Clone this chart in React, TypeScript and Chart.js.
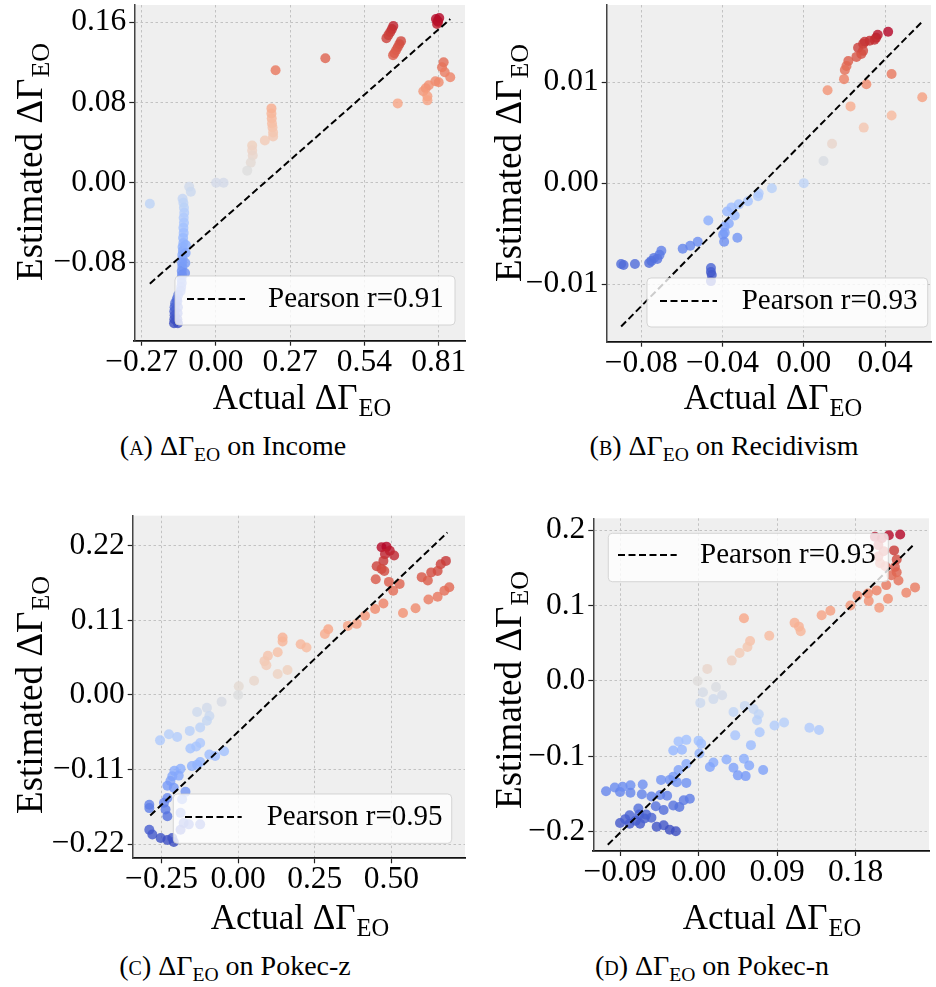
import React, { useEffect, useRef } from "react";
import { Chart, registerables } from "chart.js";

Chart.register(...registerables);

const SERIF = '"Liberation Serif", "Times New Roman", Times, serif';

// ---------- (A) Income ----------
const incomeActual = [
  0.8, 0.808, 0.804, 0.812, 0.806, 0.645, 0.64, 0.634, 0.627, 0.62, 0.673, 0.667, 0.661, 0.655, 0.649, 0.644,
  0.398, 0.217, 0.828, 0.822, 0.832, 0.852, 0.81, 0.798, 0.774, 0.763, 0.754, 0.769, 0.769, 0.661,
  0.202, 0.202, 0.203, 0.204, 0.206, 0.208, 0.208, 0.178, 0.132, 0.132, 0.134, 0.127, 0.114, 0.001, 0.028,
  -0.24, -0.097, -0.091, -0.121,
  -0.118, -0.116, -0.115, -0.117, -0.116, -0.118, -0.117, -0.119, -0.118, -0.121, -0.12, -0.122, -0.121,
  -0.123, -0.122, -0.124, -0.123, -0.125, -0.124, -0.126, -0.128, -0.137, -0.142, -0.148, -0.15, -0.151,
  -0.15, -0.151, -0.152, -0.14, -0.138, -0.139, -0.14, -0.138, -0.109, -0.11, -0.111, -0.112,
];
const incomeEstimated = [
  0.163, 0.16, 0.158, 0.164, 0.161, 0.156, 0.153, 0.15, 0.147, 0.144, 0.141, 0.138, 0.135, 0.132, 0.129, 0.127,
  0.124, 0.112, 0.12, 0.115, 0.11, 0.105, 0.1, 0.101, 0.097, 0.094, 0.091, 0.086, 0.082, 0.079,
  0.074, 0.069, 0.064, 0.059, 0.055, 0.05, 0.046, 0.042, 0.037, 0.032, 0.027, 0.02, 0.012, 0.0, 0.0,
  -0.021, -0.004, -0.009, -0.016,
  -0.02, -0.025, -0.03, -0.035, -0.04, -0.045, -0.05, -0.055, -0.06, -0.064, -0.068, -0.072, -0.076,
  -0.08, -0.084, -0.088, -0.092, -0.096, -0.1, -0.104, -0.108, -0.112, -0.116, -0.12, -0.124, -0.128,
  -0.132, -0.136, -0.14, -0.118, -0.124, -0.13, -0.136, -0.14, -0.062, -0.07, -0.08, -0.09,
];
const incomeFitX = [-0.24, 0.852];
const incomeFitY = [-0.1006, 0.163];
const incomeXTicks = [-0.27, 0.0, 0.27, 0.54, 0.81];
const incomeYTicks = [-0.08, 0.0, 0.08, 0.16];
const incomePearson = 0.91;

// ---------- (B) Recidivism ----------
const recidActual = [
  0.0415, 0.0364, 0.0356, 0.0348, 0.0324, 0.03, 0.0292, 0.0267, 0.0292, 0.0283, 0.0259, 0.0219, 0.021, 0.0202,
  0.0198, 0.0432, 0.0308, 0.0117, 0.023, 0.0583, 0.0432, 0.0295, 0.0139, 0.0097, 0.0, -0.0157, -0.0222, -0.0225,
  -0.0275, -0.032, -0.0356, -0.034, -0.0377, -0.0369, -0.0389, -0.0389, -0.0397, -0.0392, -0.0327, -0.047,
  -0.0522, -0.0559, -0.0596, -0.0701, -0.071, -0.0737, -0.0721, -0.0761, -0.075, -0.0831, -0.0887, -0.0899,
  -0.0457, -0.0457, -0.0453, -0.0457,
];
const recidEstimated = [
  0.015, 0.0147, 0.0144, 0.0142, 0.0141, 0.014, 0.0138, 0.0134, 0.0131, 0.0128, 0.0125, 0.0121, 0.0116, 0.0112,
  0.0103, 0.0108, 0.0098, 0.0092, 0.0076, 0.0085, 0.0067, 0.0055, 0.0039, 0.0022, 0.0, -0.0005, -0.001, -0.0013,
  -0.0018, -0.0021, -0.0024, -0.0032, -0.0028, -0.004, -0.0043, -0.0049, -0.0051, -0.0058, -0.0054, -0.0037,
  -0.0058, -0.0062, -0.0065, -0.0067, -0.0071, -0.0074, -0.0075, -0.0079, -0.0077, -0.008, -0.0081, -0.008,
  -0.0084, -0.0088, -0.0091, -0.0097,
];
const recidFitX = [-0.0899, 0.0583];
const recidFitY = [-0.0142, 0.016];
const recidXTicks = [-0.08, -0.04, 0.0, 0.04];
const recidYTicks = [-0.01, 0.0, 0.01];
const recidPearson = 0.93;

// ---------- (C) Pokec-z ----------
const pokeczActual = [
  0.468, 0.484, 0.495, 0.509, 0.479, 0.474, 0.452, 0.468, 0.477, 0.449, 0.492, 0.527, 0.506, 0.474, 0.447,
  0.678, 0.661, 0.651, 0.63, 0.599, 0.619, 0.689, 0.673, 0.651, 0.621, 0.579, 0.538,
  0.414, 0.387, 0.358, 0.294, 0.283, 0.223, 0.204, 0.145, 0.145, 0.129, 0.097, 0.086, 0.092, 0.129, 0.161,
  0.052, 0.002, 0.0,
  -0.054, -0.102, -0.134, -0.094, -0.102, -0.124, -0.158, -0.199, -0.226, -0.255, -0.124, -0.137, -0.156,
  -0.046, -0.075, -0.094, -0.124, -0.151, -0.134, -0.188, -0.208, -0.215, -0.194, -0.221, -0.231, -0.21,
  -0.172, -0.183, -0.231, -0.242, -0.29, -0.29, -0.237, -0.231, -0.188, -0.178, -0.161, -0.124, -0.188,
  -0.29, -0.28, -0.253, -0.231, -0.21, -0.215,
];
const pokeczEstimated = [
  0.218, 0.219, 0.213, 0.206, 0.208, 0.198, 0.19, 0.186, 0.183, 0.171, 0.167, 0.164, 0.154, 0.135, 0.127,
  0.198, 0.193, 0.183, 0.181, 0.174, 0.169, 0.159, 0.154, 0.145, 0.141, 0.128, 0.121,
  0.117, 0.105, 0.102, 0.097, 0.09, 0.07, 0.075, 0.085, 0.079, 0.063, 0.058, 0.05, 0.044, 0.031, 0.037,
  0.021, 0.013, 0.0,
  -0.01, -0.019, -0.025, -0.031, -0.038, -0.048, -0.053, -0.062, -0.058, -0.067, -0.071, -0.076, -0.079,
  -0.083, -0.09, -0.088, -0.099, -0.105, -0.103, -0.109, -0.112, -0.12, -0.119, -0.127, -0.134, -0.137,
  -0.143, -0.154, -0.152, -0.159, -0.162, -0.167, -0.169, -0.179, -0.174, -0.189, -0.191, -0.191, -0.199,
  -0.199, -0.206, -0.211, -0.214, -0.217, -0.211,
];
const pokeczFitX = [-0.287, 0.683];
const pokeczFitY = [-0.178, 0.24];
const pokeczXTicks = [-0.25, 0.0, 0.25, 0.5];
const pokeczYTicks = [-0.22, -0.11, 0.0, 0.11, 0.22];
const pokeczPearson = 0.95;

// ---------- (D) Pokec-n ----------
const pokecnActual = [
  0.231, 0.218, 0.224, 0.227, 0.225, 0.227, 0.221, 0.229, 0.215, 0.248, 0.238, 0.204, 0.194, 0.217, 0.195,
  0.207, 0.182, 0.174, 0.202, 0.21, 0.206, 0.212, 0.206, 0.208, 0.214,
  0.151, 0.141, 0.11, 0.115, 0.117, 0.081, 0.052, 0.059, 0.056, 0.047, 0.038, 0.01, -0.001, 0.02, 0.005,
  0.027, 0.017, 0.002, 0.053, 0.04, 0.063, 0.069, 0.067, 0.087, 0.098, 0.127, 0.138, 0.07, 0.042, 0.06,
  0.052, 0.032, 0.04, 0.058, 0.045, 0.054, 0.074, 0.017, 0.013, 0.0, 0.003, 0.001,
  -0.023, -0.014, -0.029, -0.019, -0.014, -0.023, -0.029, -0.033, -0.043, -0.025, -0.014,
  -0.106, -0.096, -0.09, -0.087, -0.078, -0.078, -0.064, -0.065, -0.054, -0.044, -0.036, -0.029, -0.022,
  -0.017, -0.01, -0.049, -0.04, -0.069, -0.079, -0.068, -0.06, -0.09, -0.079, -0.067, -0.048, -0.04,
  -0.033, -0.026, -0.062, -0.054, -0.072, -0.084,
];
const pokecnEstimated = [
  0.194, 0.193, 0.173, 0.161, 0.151, 0.144, 0.14, 0.133, 0.127, 0.124, 0.117, 0.12, 0.116, 0.109, 0.106,
  0.097, 0.113, 0.1, 0.191, 0.189, 0.18, 0.172, 0.165, 0.156, 0.152,
  0.093, 0.087, 0.077, 0.072, 0.066, 0.06, 0.083, 0.053, 0.045, 0.037, 0.027, 0.016, 0.0, -0.008, -0.015,
  -0.019, -0.024, -0.029, -0.033, -0.041, -0.037, -0.044, -0.052, -0.059, -0.055, -0.062, -0.065, -0.068,
  -0.072, -0.085, -0.103, -0.104, -0.115, -0.112, -0.125, -0.126, -0.118, -0.108, -0.114, -0.079, -0.083,
  -0.096,
  -0.08, -0.078, -0.092, -0.091, -0.11, -0.118, -0.127, -0.131, -0.131, -0.134, -0.135,
  -0.146, -0.141, -0.147, -0.14, -0.138, -0.148, -0.137, -0.15, -0.153, -0.151, -0.152, -0.165, -0.167,
  -0.158, -0.156, -0.166, -0.171, -0.169, -0.178, -0.177, -0.177, -0.188, -0.189, -0.189, -0.193, -0.191,
  -0.197, -0.199, -0.182, -0.181, -0.185, -0.183,
];
const pokecnFitX = [-0.104, 0.246];
const pokecnFitY = [-0.217, 0.18];
const pokecnXTicks = [-0.09, 0.0, 0.09, 0.18];
const pokecnYTicks = [-0.2, -0.1, 0.0, 0.1, 0.2];
const pokecnPearson = 0.93;

// ---------- coolwarm colormap ----------
const COOLWARM = [
  [59, 76, 192], [68, 90, 204], [77, 104, 215], [87, 117, 225], [98, 130, 234], [108, 142, 241],
  [119, 154, 247], [130, 165, 251], [141, 176, 254], [152, 185, 255], [163, 194, 255], [174, 201, 253],
  [184, 208, 249], [194, 213, 244], [204, 217, 238], [213, 219, 230], [221, 221, 221], [229, 216, 209],
  [236, 211, 197], [241, 204, 184], [245, 196, 172], [247, 187, 160], [247, 177, 148], [247, 166, 135],
  [244, 154, 123], [241, 141, 111], [236, 127, 99], [229, 112, 88], [222, 96, 77], [213, 80, 66],
  [203, 62, 56], [192, 40, 47], [180, 4, 38],
];
function coolwarm(t: number, alpha: number) {
  const tt = Math.max(0, Math.min(1, t)) * (COOLWARM.length - 1);
  const i = Math.min(COOLWARM.length - 2, Math.floor(tt));
  const f = tt - i;
  const a = COOLWARM[i], b = COOLWARM[i + 1];
  const c = a.map((v, k) => Math.round(v + (b[k] - v) * f));
  return `rgba(${c[0]},${c[1]},${c[2]},${alpha})`;
}

function fmt(v: number, dec: number) {
  const s = Math.abs(v).toFixed(dec);
  return (v < -1e-12 ? "\u2212" : "") + s;
}

type Box = { left: number; top: number; width: number; height: number };
type Panel = {
  xs: number[]; ys: number[]; fitX: number[]; fitY: number[];
  xTicks: number[]; yTicks: number[]; xDec: number; yDec: number; r: number;
  canvas: Box;
  area: { left: number; top: number; right: number; bottom: number };
  xRange: number[]; yRange: number[];
  legend: { x1: number; y1: number; x2: number; y2: number; lx1: number; lx2: number; ly: number; tx: number };
  xTitle: { cx: number; by: number }; yTitle: { bx: number; cy: number };
  caption: { cx: number; cy: number; letter: string; name: string };
};

const PANELS: Panel[] = [
  {
    xs: incomeActual, ys: incomeEstimated, fitX: incomeFitX, fitY: incomeFitY,
    xTicks: incomeXTicks, yTicks: incomeYTicks, xDec: 2, yDec: 2, r: incomePearson,
    canvas: { left: 0, top: 0, width: 470, height: 425 },
    area: { left: 134.3, top: 0, right: 470, bottom: 340.7 },
    xRange: [-0.2965, 0.9056], yRange: [-0.1574, 0.177],
    legend: { x1: 175, y1: 276, x2: 455, y2: 325, lx1: 187, lx2: 245, ly: 299, tx: 268 },
    xTitle: { cx: 302, by: 409 }, yTitle: { bx: 42, cy: 162 },
    caption: { cx: 233, cy: 447, letter: "a", name: "Income" },
  },
  {
    xs: recidActual, ys: recidEstimated, fitX: recidFitX, fitY: recidFitY,
    xTicks: recidXTicks, yTicks: recidYTicks, xDec: 2, yDec: 2, r: recidPearson,
    canvas: { left: 470, top: 0, width: 466, height: 425 },
    area: { left: 606.7, top: 0, right: 936, bottom: 341.7 },
    xRange: [-0.097, 0.0626], yRange: [-0.0157, 0.01764],
    legend: { x1: 647, y1: 278, x2: 927.7, y2: 327, lx1: 660, lx2: 717, ly: 301, tx: 741.7 },
    xTitle: { cx: 773, by: 409 }, yTitle: { bx: 521, cy: 163 },
    caption: { cx: 724, cy: 447, letter: "b", name: "Recidivism" },
  },
  {
    xs: pokeczActual, ys: pokeczEstimated, fitX: pokeczFitX, fitY: pokeczFitY,
    xTicks: pokeczXTicks, yTicks: pokeczYTicks, xDec: 2, yDec: 2, r: pokeczPearson,
    canvas: { left: 0, top: 480, width: 470, height: 460 },
    area: { left: 132.7, top: 515.7, right: 466.7, bottom: 858.3 },
    xRange: [-0.3442, 0.7403], yRange: [-0.2411, 0.2647],
    legend: { x1: 173.3, y1: 794, x2: 451.7, y2: 843.3, lx1: 185, lx2: 241.7, ly: 817, tx: 266.7 },
    xTitle: { cx: 300, by: 929 }, yTitle: { bx: 42, cy: 695 },
    caption: { cx: 235, cy: 967, letter: "c", name: "Pokec-z" },
  },
  {
    xs: pokecnActual, ys: pokecnEstimated, fitX: pokecnFitX, fitY: pokecnFitY,
    xTicks: pokecnXTicks, yTicks: pokecnYTicks, xDec: 2, yDec: 1, r: pokecnPearson,
    canvas: { left: 470, top: 480, width: 466, height: 460 },
    area: { left: 593.3, top: 518.3, right: 929, bottom: 851 },
    xRange: [-0.1206, 0.264], yRange: [-0.2252, 0.2155],
    legend: { x1: 608.3, y1: 533.3, x2: 888.3, y2: 581.7, lx1: 618, lx2: 676.7, ly: 555, tx: 700 },
    xTitle: { cx: 772, by: 929 }, yTitle: { bx: 521, cy: 690 },
    caption: { cx: 712, cy: 967, letter: "d", name: "Pokec-n" },
  },
];

const TICK_SIZE = 31.5;
const LEGEND_SIZE = 29;
const XTITLE_SIZE = 35;
const YTITLE_SIZE = 37;

function drawSubLabel(ctx: CanvasRenderingContext2D, cx: number, by: number, main: string, sub: string, size: number) {
  const subSize = size * 0.7;
  ctx.font = `${size}px ${SERIF}`;
  const w1 = ctx.measureText(main).width;
  ctx.font = `${subSize}px ${SERIF}`;
  const w2 = ctx.measureText(sub).width;
  const gap = 1;
  const start = cx - (w1 + gap + w2) / 2;
  ctx.textAlign = "left";
  ctx.textBaseline = "alphabetic";
  ctx.fillStyle = "#000";
  ctx.font = `${size}px ${SERIF}`;
  ctx.fillText(main, start, by);
  ctx.font = `${subSize}px ${SERIF}`;
  ctx.fillText(sub, start + w1 + gap, by + size * 0.2);
}

const bgPlugin = {
  id: "axesBg",
  beforeDraw(chart: any) {
    const { ctx, chartArea: a } = chart;
    ctx.save();
    ctx.fillStyle = "#efefef";
    ctx.fillRect(a.left, a.top, a.right - a.left, a.bottom - a.top);
    ctx.restore();
  },
};

function decorPlugin(p: Panel) {
  return {
    id: "decor",
    afterDraw(chart: any) {
      const ctx: CanvasRenderingContext2D = chart.ctx;
      const ox = p.canvas.left, oy = p.canvas.top;
      const L = p.legend;
      ctx.save();
      const x = L.x1 - ox, y = L.y1 - oy, w = L.x2 - L.x1, h = L.y2 - L.y1, r = 4;
      ctx.beginPath();
      ctx.moveTo(x + r, y);
      ctx.lineTo(x + w - r, y);
      ctx.arcTo(x + w, y, x + w, y + r, r);
      ctx.lineTo(x + w, y + h - r);
      ctx.arcTo(x + w, y + h, x + w - r, y + h, r);
      ctx.lineTo(x + r, y + h);
      ctx.arcTo(x, y + h, x, y + h - r, r);
      ctx.lineTo(x, y + r);
      ctx.arcTo(x, y, x + r, y, r);
      ctx.closePath();
      ctx.fillStyle = "rgba(255,255,255,0.8)";
      ctx.fill();
      ctx.strokeStyle = "rgba(204,204,204,0.8)";
      ctx.lineWidth = 1;
      ctx.stroke();
      ctx.setLineDash([7, 3.5]);
      ctx.strokeStyle = "#000";
      ctx.lineWidth = 2;
      ctx.beginPath();
      ctx.moveTo(L.lx1 - ox, L.ly - oy);
      ctx.lineTo(L.lx2 - ox, L.ly - oy);
      ctx.stroke();
      ctx.setLineDash([]);
      ctx.fillStyle = "#000";
      ctx.font = `${LEGEND_SIZE}px ${SERIF}`;
      ctx.textAlign = "left";
      ctx.textBaseline = "middle";
      ctx.fillText(`Pearson r=${p.r.toFixed(2)}`, L.tx - ox, L.ly - oy);
      drawSubLabel(ctx, p.xTitle.cx - ox, p.xTitle.by - oy, "Actual \u0394\u0393", "EO", XTITLE_SIZE);
      ctx.translate(p.yTitle.bx - ox, p.yTitle.cy - oy);
      ctx.rotate(-Math.PI / 2);
      drawSubLabel(ctx, 0, 0, "Estimated \u0394\u0393", "EO", YTITLE_SIZE);
      ctx.restore();
    },
  };
}

function buildConfig(p: Panel): any {
  const ymin = Math.min(...p.ys), ymax = Math.max(...p.ys);
  const points = p.xs.map((x, i) => ({ x, y: p.ys[i] }));
  const colors = points.map((pt) => coolwarm((pt.y - ymin) / (ymax - ymin), 0.8));
  const fit = p.fitX.map((x, i) => ({ x, y: p.fitY[i] }));
  const yAxisW = p.area.left - p.canvas.left;
  const padTop = p.area.top - p.canvas.top;
  const padRight = p.canvas.left + p.canvas.width - p.area.right;
  const xAxisH = p.canvas.top + p.canvas.height - p.area.bottom;
  const tickFont = { family: SERIF, size: TICK_SIZE, lineHeight: 1 };
  return {
    type: "scatter",
    data: {
      datasets: [
        {
          data: fit, showLine: true, pointRadius: 0, borderColor: "#000", borderWidth: 2,
          borderDash: [7, 3.5], fill: false, order: 0,
        },
        {
          data: points, backgroundColor: colors, borderWidth: 0, pointRadius: 5,
          pointHoverRadius: 5, order: 1,
        },
      ],
    },
    options: {
      responsive: false, maintainAspectRatio: false, animation: false, devicePixelRatio: 1, events: [],
      layout: { padding: { left: 0, top: padTop, right: padRight, bottom: 0 } },
      plugins: { legend: { display: false }, tooltip: { enabled: false } },
      scales: {
        x: {
          type: "linear", position: "bottom", min: p.xRange[0], max: p.xRange[1],
          afterBuildTicks: (s: any) => { s.ticks = p.xTicks.map((v) => ({ value: v })); },
          afterFit: (s: any) => {
            s.height = xAxisH; s.paddingLeft = 0; s.paddingRight = 0; s.paddingTop = 0; s.paddingBottom = 0;
          },
          ticks: {
            autoSkip: false, maxRotation: 0, minRotation: 0, padding: 1, color: "#000", font: tickFont,
            callback: (v: any) => fmt(Number(v), p.xDec),
          },
          grid: { color: "#c2c2c2", lineWidth: 1, drawTicks: true, tickLength: 5, tickColor: "#222", tickWidth: 1.2, tickBorderDash: [] },
          border: { display: true, color: "#111", width: 1.8, dash: [2.5, 2.5] },
        },
        y: {
          type: "linear", position: "left", min: p.yRange[0], max: p.yRange[1],
          afterBuildTicks: (s: any) => { s.ticks = p.yTicks.map((v) => ({ value: v })); },
          afterFit: (s: any) => {
            s.width = yAxisW; s.paddingLeft = 0; s.paddingRight = 0; s.paddingTop = 0; s.paddingBottom = 0;
          },
          ticks: {
            autoSkip: false, padding: 3, color: "#000", font: tickFont,
            callback: (v: any) => fmt(Number(v), p.yDec),
          },
          grid: { color: "#c2c2c2", lineWidth: 1, drawTicks: true, tickLength: 5, tickColor: "#222", tickWidth: 1.2, tickBorderDash: [] },
          border: { display: true, color: "#444", width: 1.5, dash: [2.5, 2.5] },
        },
      },
    },
    plugins: [bgPlugin, decorPlugin(p)],
  };
}

function PanelChart({ p }: { p: Panel }) {
  const ref = useRef<HTMLCanvasElement | null>(null);
  useEffect(() => {
    if (!ref.current) return;
    const chart = new Chart(ref.current, buildConfig(p));
    return () => chart.destroy();
  }, [p]);
  return (
    <canvas
      ref={ref}
      width={p.canvas.width}
      height={p.canvas.height}
      style={{
        position: "absolute", left: p.canvas.left, top: p.canvas.top,
        width: p.canvas.width, height: p.canvas.height, display: "block",
      }}
    />
  );
}

function Caption({ p }: { p: Panel }) {
  return (
    <div
      style={{
        position: "absolute", left: p.caption.cx, top: p.caption.cy, transform: "translate(-50%, -50%)",
        fontFamily: SERIF, fontSize: 28, lineHeight: "32px", whiteSpace: "nowrap", color: "#000",
      }}
    >
      (<span style={{ fontVariant: "small-caps" }}>{p.caption.letter}</span>) {"\u0394\u0393"}
      <span style={{ fontSize: "0.7em", position: "relative", top: "0.3em" }}>EO</span> on {p.caption.name}
    </div>
  );
}

export default function App() {
  return (
    <div style={{ position: "absolute", left: 0, top: 0, width: 936, height: 987, overflow: "hidden", background: "#fff" }}>
      {PANELS.map((p, i) => (
        <PanelChart key={"c" + i} p={p} />
      ))}
      {PANELS.map((p, i) => (
        <Caption key={"t" + i} p={p} />
      ))}
    </div>
  );
}
